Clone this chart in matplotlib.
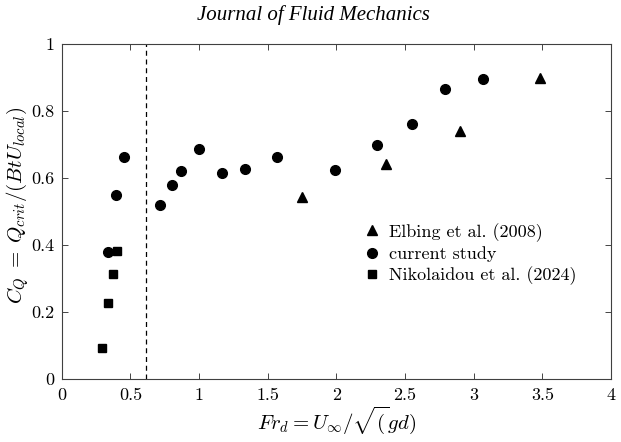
import numpy as np
import matplotlib
matplotlib.use("Agg")
import matplotlib.pyplot as plt

plt.rcParams['font.family'] = 'serif'
plt.rcParams['font.serif'] = ['cmr10']
plt.rcParams['mathtext.fontset'] = 'cm'
plt.rcParams['axes.formatter.use_mathtext'] = True

# data
elbing_fr = [1.75, 2.36, 2.90, 3.48]
elbing_cq = [0.545, 0.643, 0.742, 0.899]

current_fr = [0.333, 0.393, 0.454, 0.717, 0.804, 0.870, 0.997, 1.167, 1.336,
              1.565, 1.99, 2.294, 2.548, 2.79, 3.065]
current_cq = [0.380, 0.549, 0.664, 0.521, 0.581, 0.623, 0.688, 0.615, 0.628,
              0.663, 0.624, 0.700, 0.763, 0.867, 0.896]

niko_fr = [0.294, 0.333, 0.372, 0.403]
niko_cq = [0.094, 0.227, 0.313, 0.382]

fr_threshold = 0.61

xticks = [0, 0.5, 1, 1.5, 2, 2.5, 3, 3.5, 4]
xticklabels = ['0', '0.5', '1', '1.5', '2', '2.5', '3', '3.5', '4']
yticks = [0, 0.2, 0.4, 0.6, 0.8, 1]
yticklabels = ['0', '0.2', '0.4', '0.6', '0.8', '1']

fig = plt.figure(figsize=(6.21, 4.42), dpi=100)
ax = fig.add_axes([0.0995, 0.1418, 0.8845, 0.758])

ax.plot(elbing_fr, elbing_cq, '^', color='k', markersize=7.5, linestyle='none',
        label='Elbing et al. (2008)')
ax.plot(current_fr, current_cq, 'o', color='k', markersize=7, linestyle='none',
        label='current study')
ax.plot(niko_fr, niko_cq, 's', color='k', markersize=5.5, linestyle='none',
        label='Nikolaidou et al. (2024)')
ax.axvline(fr_threshold, color='k', linestyle='--', linewidth=0.9, dashes=(4, 3))

ax.set_xlim(0, 4)
ax.set_ylim(0, 1)
ax.set_xticks(xticks)
ax.set_xticklabels(xticklabels)
ax.set_yticks(yticks)
ax.set_yticklabels(yticklabels)
ax.tick_params(direction='in', top=True, right=True, length=4, width=0.6,
               labelsize=13, colors='#262626', labelcolor='k')
ax.tick_params(axis='x', pad=6)
ax.tick_params(axis='y', pad=5)
for s in ax.spines.values():
    s.set_color('#404040')
    s.set_linewidth(0.8)

ax.set_xlabel(r'$Fr_d = U_\infty/\sqrt{(}gd)$', fontsize=15, labelpad=1)
ax.set_ylabel(r'$C_Q\;=\;Q_{crit}/(BtU_{local})$', fontsize=15)
ax.yaxis.set_label_coords(-0.056, 0.52)

ax.legend(loc='center left', bbox_to_anchor=(0.527, 0.374), frameon=False,
          fontsize=13, handletextpad=0.2, labelspacing=0.25, borderaxespad=0,
          handlelength=1.5)

fig.text(0.504, 0.966, 'Journal of Fluid Mechanics', ha='center', va='center',
         family='Liberation Serif', style='italic', fontsize=15)

fig.savefig('out.png', dpi=100)
